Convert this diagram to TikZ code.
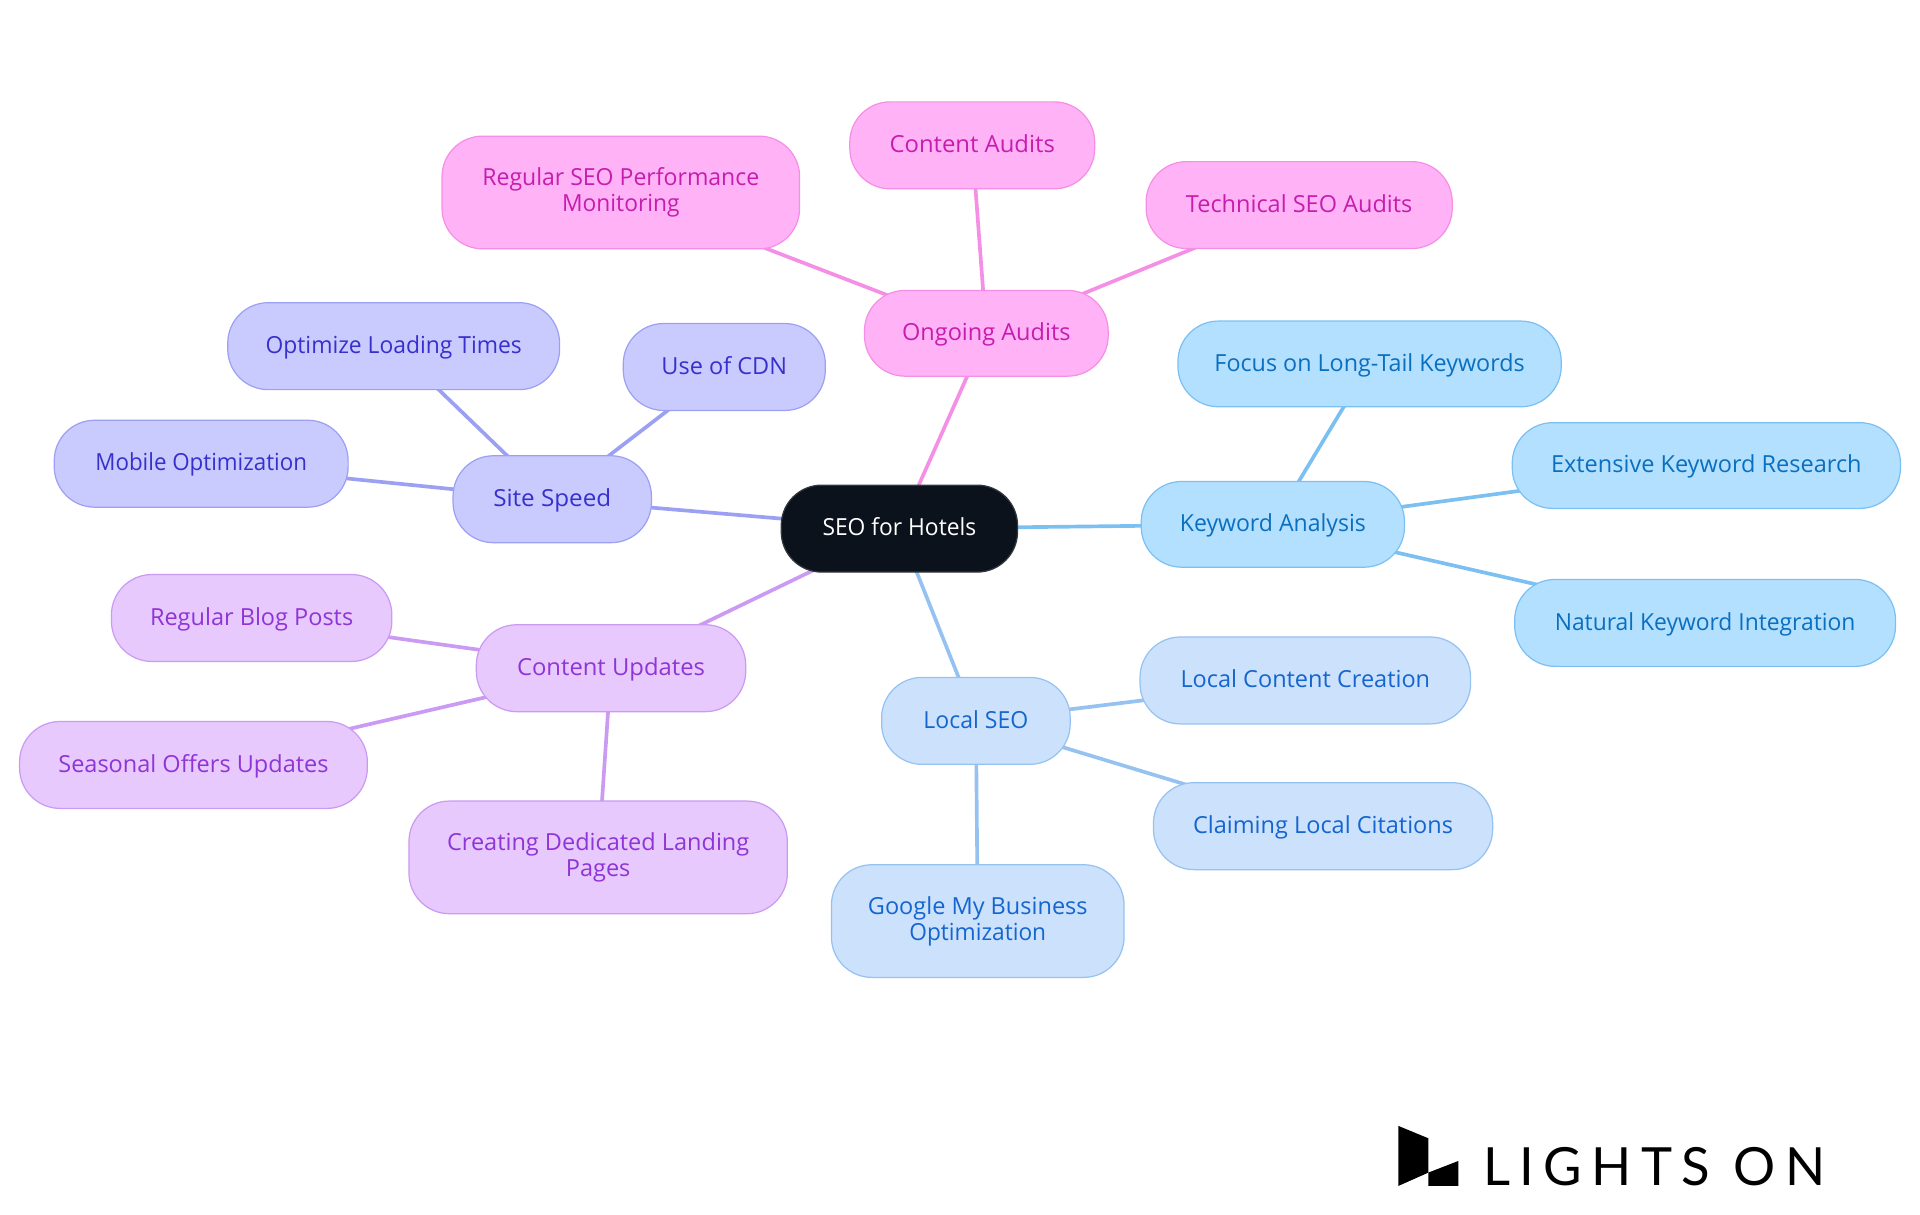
\documentclass[tikz,border=0pt]{standalone}
\usepackage{fontspec}
\usepackage{graphicx}
\setmainfont{Open Sans}
\newfontfamily\logofont[LetterSpace=18]{Lato}
\usetikzlibrary{backgrounds}
\definecolor{rootfill}{HTML}{0B121B}
\definecolor{rootline}{HTML}{33383F}
\definecolor{pinkfill}{HTML}{FFB3F6}
\definecolor{pinkline}{HTML}{F58FE6}
\definecolor{pinktext}{HTML}{C71DAE}
\definecolor{purpfill}{HTML}{E7C9FE}
\definecolor{purpline}{HTML}{CB9AF2}
\definecolor{purptext}{HTML}{8F35D6}
\definecolor{indfill}{HTML}{C9CBFF}
\definecolor{indline}{HTML}{9CA0F2}
\definecolor{indtext}{HTML}{3730CC}
\definecolor{bluefill}{HTML}{CCE2FC}
\definecolor{blueline}{HTML}{96C2F2}
\definecolor{bluetext}{HTML}{1565CF}
\definecolor{skyfill}{HTML}{B3E0FF}
\definecolor{skyline}{HTML}{7CC0F2}
\definecolor{skytext}{HTML}{0B6FBF}
\newcommand{\mystrut}{\rule[-4.6pt]{0pt}{21pt}}
\newcommand{\hs}[2]{\scalebox{#1}[1]{#2}}
\tikzset{
 x=1pt,y=-1pt,
 mm/.style={rectangle,rounded corners=33pt,line width=1pt,inner sep=0pt,align=center,
   font=\fontsize{19.2}{21.3}\selectfont,execute at begin node=\mystrut},
 root/.style={mm,fill=rootfill,draw=rootline,text=white},
 pinkbox/.style={mm,fill=pinkfill,draw=pinkline,text=pinktext},
 purpbox/.style={mm,fill=purpfill,draw=purpline,text=purptext},
 indbox/.style={mm,fill=indfill,draw=indline,text=indtext},
 bluebox/.style={mm,fill=bluefill,draw=blueline,text=bluetext},
 skybox/.style={mm,fill=skyfill,draw=skyline,text=skytext},
 sz/.style 2 args={minimum width=#1pt,minimum height=#2pt},
 link/.style={line width=3pt},
}
\begin{document}
\begin{tikzpicture}
\useasboundingbox (0,0) rectangle (1568,992.25);
\node[root,sz={193}{71}] (r) at (734.5,431.7) {\hs{.97}{SEO for Hotels}};
% pink
\node[pinkbox,sz={199}{70}] (oa) at (805.5,272.2) {Ongoing Audits};
\node[pinkbox,sz={200}{71}] (ca) at (794,118.7) {\hs{1.015}{Content Audits}};
\node[pinkbox,sz={292}{92}] (rs) at (507,157.2) {\hs{.98}{Regular SEO Performance}\\\mystrut\hs{.97}{Monitoring}};
\node[pinkbox,sz={250}{71}] (ta) at (1061,167.5) {Technical SEO Audits};
% sky
\node[skybox,sz={215}{70}] (ka) at (1039.5,428.2) {\hs{.98}{Keyword Analysis}};
\node[skybox,sz={313}{70}] (fl) at (1118.5,297.2) {\hs{.992}{Focus on Long-Tail Keywords}};
\node[skybox,sz={317}{70}] (ek) at (1393.5,380.2) {Extensive Keyword Research};
\node[skybox,sz={311}{71}] (nk) at (1392.5,508.7) {\hs{.972}{Natural Keyword Integration}};
% blue
\node[bluebox,sz={154}{71}] (ls) at (797,588.7) {\hs{.98}{Local SEO}};
\node[bluebox,sz={270}{71}] (lc) at (1066,555.7) {Local Content Creation};
\node[bluebox,sz={277}{71}] (cl) at (1080.5,674.7) {Claiming Local Citations};
\node[bluebox,sz={239}{92}] (gm) at (798.5,752.2) {Google My Business\\\mystrut\hs{.965}{Optimization}};
% purple
\node[purpbox,sz={220}{71}] (cu) at (499,545.7) {\hs{1.013}{Content Updates}};
\node[purpbox,sz={229}{71}] (rb) at (205.5,504.7) {Regular Blog Posts};
\node[purpbox,sz={284}{71}] (so) at (158,624.7) {Seasonal Offers Updates};
\node[purpbox,sz={309}{92}] (cd) at (488.5,700.2) {Creating Dedicated Landing\\\mystrut Pages};
% indigo
\node[indbox,sz={162}{71}] (ss) at (451,407.7) {\hs{1.03}{Site Speed}};
\node[indbox,sz={271}{71}] (ol) at (321.5,282.7) {\hs{.972}{Optimize Loading Times}};
\node[indbox,sz={165}{71}] (cn) at (591.5,299.7) {Use of CDN};
\node[indbox,sz={240}{71}] (mo) at (164.3,378.7) {\hs{.95}{Mobile Optimization}};
\begin{scope}[on background layer]
\draw[link,pinkline] (r.center) -- (oa.center);
\draw[link,pinkline] (oa.center) -- (ca.center);
\draw[link,pinkline] (oa.center) -- (rs.center);
\draw[link,pinkline] (oa.center) -- (ta.center);
\draw[link,skyline] (r.center) -- (ka.center);
\draw[link,skyline] (ka.center) -- (fl.center);
\draw[link,skyline] (ka.center) -- (ek.center);
\draw[link,skyline] (ka.center) -- (nk.center);
\draw[link,blueline] (r.center) -- (ls.center);
\draw[link,blueline] (ls.center) -- (lc.center);
\draw[link,blueline] (ls.center) -- (cl.center);
\draw[link,blueline] (ls.center) -- (gm.center);
\draw[link,purpline] (r.center) -- (cu.center);
\draw[link,purpline] (cu.center) -- (rb.center);
\draw[link,purpline] (cu.center) -- (so.center);
\draw[link,purpline] (cu.center) -- (cd.center);
\draw[link,indline] (r.center) -- (ss.center);
\draw[link,indline] (ss.center) -- (ol.center);
\draw[link,indline] (ss.center) -- (cn.center);
\draw[link,indline] (ss.center) -- (mo.center);
\end{scope}
% logo
\fill[black] (1142,919.5) -- (1166.5,929.6) -- (1166.5,957.6) -- (1142,968.5) -- cycle;
\fill[black] (1166.5,957.6) -- (1191,948.1) -- (1191,968.5) -- (1166.5,968.5) -- cycle;
\node[anchor=base west,inner sep=0pt,font=\logofont\fontsize{43}{43}\selectfont,text=black] (logo) at (1211,968.5) {LIGHTS ON};
\end{tikzpicture}
\end{document}
